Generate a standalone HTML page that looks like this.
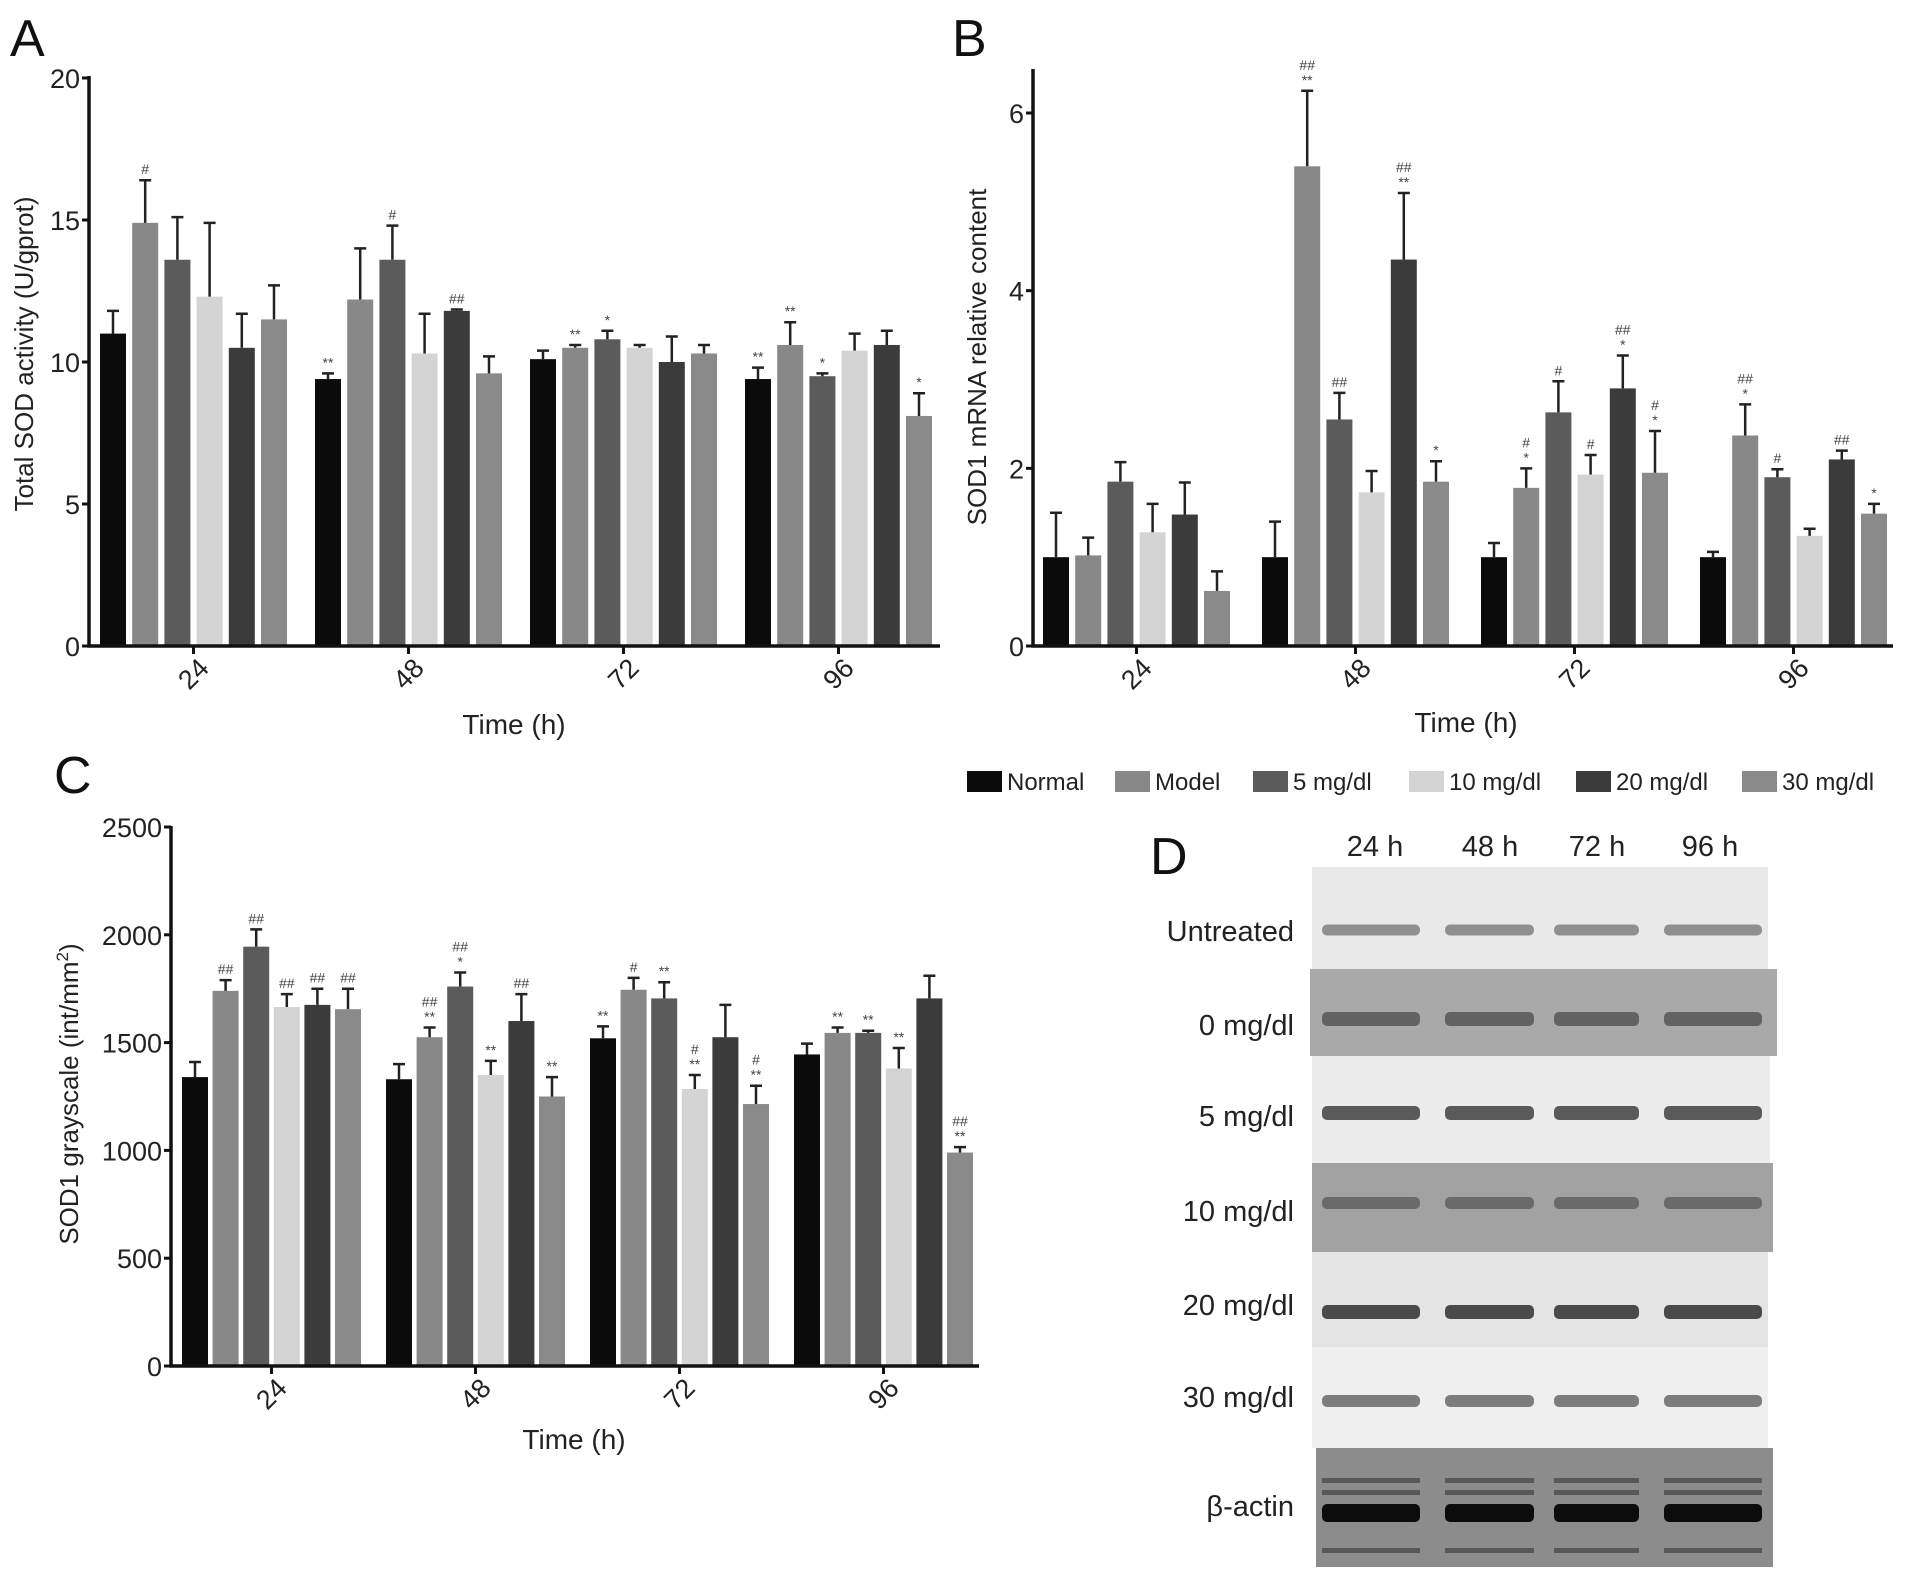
<!DOCTYPE html>
<html><head><meta charset="utf-8">
<style>
html,body{margin:0;padding:0;background:#fff;}
svg{display:block;font-family:"Liberation Sans",Arial,sans-serif;}
</style></head>
<body>
<svg id="fig" width="1913" height="1579" viewBox="0 0 1913 1579" xmlns="http://www.w3.org/2000/svg">
<rect x="0" y="0" width="1913" height="1579" fill="#fff"/>
<text x="10" y="56" font-size="52" fill="#111">A</text>
<text x="952" y="56" font-size="52" fill="#111">B</text>
<text x="54" y="793" font-size="52" fill="#111">C</text>
<text x="1150" y="874" font-size="52" fill="#111">D</text>
<g id="gA"></g>
<g id="gB"></g>
<g id="gC"></g>
<g id="legend"></g>
<g id="blot"></g>
</svg>
<script>
const categories = ["24","48","72","96"];
const seriesNames = ["Normal","Model","5 mg/dl","10 mg/dl","20 mg/dl","30 mg/dl"];
const seriesColors = ["#0b0b0b","#888888","#5b5b5b","#d4d4d4","#3b3b3b","#8a8a8a"];

// Panel A: Total SOD activity
const aTicks = [0,5,10,15,20];
const aNormal = [11.0,9.4,10.1,9.4];
const aModel = [14.9,12.2,10.5,10.6];
const a5 = [13.6,13.6,10.8,9.5];
const a10 = [12.3,10.3,10.5,10.4];
const a20 = [10.5,11.8,10.0,10.6];
const a30 = [11.5,9.6,10.3,8.1];
const aErrNormal = [0.8,0.2,0.3,0.4];
const aErrModel = [1.5,1.8,0.1,0.8];
const aErr5 = [1.5,1.2,0.3,0.1];
const aErr10 = [2.6,1.4,0.1,0.6];
const aErr20 = [1.2,0.05,0.9,0.5];
const aErr30 = [1.2,0.6,0.3,0.8];
const aMarks = [["","#","","","",""],["**","","#","","##",""],["","**","*","","",""],["**","**","*","","","*"]];

// Panel B: SOD1 mRNA
const bTicks = [0,2,4,6];
const bNormal = [1.0,1.0,1.0,1.0];
const bModel = [1.02,5.4,1.78,2.37];
const b5 = [1.85,2.55,2.63,1.9];
const b10 = [1.28,1.73,1.93,1.24];
const b20 = [1.48,4.35,2.9,2.1];
const b30 = [0.62,1.85,1.95,1.49];
const bErrNormal = [0.5,0.4,0.16,0.06];
const bErrModel = [0.2,0.85,0.22,0.35];
const bErr5 = [0.22,0.3,0.35,0.09];
const bErr10 = [0.32,0.24,0.22,0.08];
const bErr20 = [0.36,0.75,0.37,0.1];
const bErr30 = [0.22,0.23,0.47,0.11];
const bMarks = [["","","","","",""],["","##|**","##","","##|**","*"],["","#|*","#","#","##|*","#|*"],["","##|*","#","","##","*"]];

// Panel C: SOD1 grayscale
const cTicks = [0,500,1000,1500,2000,2500];
const cNormal = [1340,1330,1520,1445];
const cModel = [1740,1525,1745,1545];
const c5 = [1945,1760,1705,1545];
const c10 = [1665,1350,1285,1380];
const c20 = [1675,1600,1525,1705];
const c30 = [1655,1250,1215,990];
const cErrNormal = [70,70,55,50];
const cErrModel = [50,45,55,25];
const cErr5 = [80,65,75,10];
const cErr10 = [60,65,65,95];
const cErr20 = [75,125,150,105];
const cErr30 = [95,90,85,25];
const cMarks = [["","##","##","##","##","##"],["","##|**","##|*","**","##","**"],["**","#","**","#|**","","#|**"],["","**","**","**","","##|**"]];

const NS = "http://www.w3.org/2000/svg";
function mk(parent, tag, attrs){
  const e = document.createElementNS(NS, tag);
  for (const k in attrs) e.setAttribute(k, attrs[k]);
  parent.appendChild(e);
  return e;
}

function drawChart(gid, cfg){
  const g = document.getElementById(gid);
  const vals = cfg.vals, errs = cfg.errs, marks = cfg.marks;
  const yScale = v => cfg.y0 - (v - cfg.min) / (cfg.max - cfg.min) * (cfg.y0 - cfg.yTop);
  const xBar = (gi, si) => cfg.firstLeft + gi * cfg.groupPitch + si * cfg.barPitch;
  for (let gi = 0; gi < categories.length; gi++){
    for (let si = 0; si < vals.length; si++){
      const v = vals[si][gi], e = errs[si][gi];
      const x = xBar(gi, si), yt = yScale(v);
      const r = mk(g, "rect", {x: x, y: yt, width: cfg.barW, height: cfg.y0 - yt, fill: seriesColors[si]});
      
      
      const cx = x + cfg.barW / 2, ye = yScale(v + e);
      const eb = mk(g, "path", {d: `M${cx},${yt} V${ye} M${cx-6},${ye} H${cx+6}`, stroke: "#222", "stroke-width": 2.5, fill: "none"});
      
      
      const m = marks[gi][si];
      if (m){
        const parts = m.split("|");
        let yy = ye - 6;
        for (let k = parts.length - 1; k >= 0; k--){
          const t = mk(g, "text", {x: cx, y: yy, "text-anchor": "middle", "font-size": 14, fill: "#444"});
          t.textContent = parts[k];
          
          
          yy -= 15;
        }
      }
    }
  }
  const ax = mk(g, "path", {d: `M${cfg.axX},${cfg.axTop} V${cfg.y0} H${cfg.axEnd}`, stroke: "#111", "stroke-width": 3.5, fill: "none"});
  
  
  cfg.ticks.forEach(t => {
    const y = yScale(t);
    mk(g, "line", {x1: cfg.axX - 7, x2: cfg.axX, y1: y, y2: y, stroke: "#111", "stroke-width": 3});
    const tl = mk(g, "text", {x: cfg.axX - 9, y: y + 10, "text-anchor": "end", "font-size": 27, fill: "#222"});
    tl.textContent = t;
    
    
  });
  for (let gi = 0; gi < categories.length; gi++){
    const cx = xBar(gi, 0) + (5 * cfg.barPitch + cfg.barW) / 2;
    mk(g, "line", {x1: cx, x2: cx, y1: cfg.y0, y2: cfg.y0 + 8, stroke: "#111", "stroke-width": 3});
    const tl = mk(g, "text", {x: cx, y: cfg.y0 + 37, "text-anchor": "middle", "font-size": 27, fill: "#222", transform: `rotate(-45 ${cx} ${cfg.y0 + 28})`});
    tl.textContent = categories[gi];
    
    
  }
  const xt = mk(g, "text", {x: cfg.xtX, y: cfg.xtY, "text-anchor": "middle", "font-size": 28, fill: "#222"});
  xt.textContent = "Time (h)";
  
  
  const yt = mk(g, "text", {x: cfg.ytX, y: cfg.ytY, "text-anchor": "middle", "font-size": 26, fill: "#222", transform: `rotate(-90 ${cfg.ytX} ${cfg.ytY})`});
  yt.innerHTML = cfg.ytitle;
  
  
}

drawChart("gA", {vals:[aNormal,aModel,a5,a10,a20,a30], errs:[aErrNormal,aErrModel,aErr5,aErr10,aErr20,aErr30], marks:aMarks,
  ticks:aTicks, min:0, max:20, y0:646, yTop:78, axX:89, axTop:76, axEnd:940,
  firstLeft:100, groupPitch:215, barPitch:32.2, barW:26, xtX:514, xtY:734, ytX:33, ytY:354,
  ytitle:"Total SOD activity (U/gprot)"});
drawChart("gB", {vals:[bNormal,bModel,b5,b10,b20,b30], errs:[bErrNormal,bErrModel,bErr5,bErr10,bErr20,bErr30], marks:bMarks,
  ticks:bTicks, min:0, max:6, y0:646, yTop:113, axX:1033, axTop:69, axEnd:1893,
  firstLeft:1043, groupPitch:219, barPitch:32.2, barW:26, xtX:1466, xtY:732, ytX:986, ytY:357,
  ytitle:"SOD1 mRNA relative content"});
drawChart("gC", {vals:[cNormal,cModel,c5,c10,c20,c30], errs:[cErrNormal,cErrModel,cErr5,cErr10,cErr20,cErr30], marks:cMarks,
  ticks:cTicks, min:0, max:2500, y0:1366, yTop:827, axX:171, axTop:826, axEnd:979,
  firstLeft:182, groupPitch:204, barPitch:30.6, barW:26, xtX:574, xtY:1449, ytX:78, ytY:1094,
  ytitle:"SOD1 grayscale (int/mm<tspan font-size='17' dy='-10'>2</tspan><tspan dy='10'>)</tspan>"});

const legendX = [967,1115,1253,1409,1576,1742];
const lg = document.getElementById("legend");
seriesNames.forEach((n, i) => {
  const sw = mk(lg, "rect", {x: legendX[i], y: 771, width: 35, height: 21, fill: seriesColors[i]});
  
  
  const t = mk(lg, "text", {x: legendX[i] + 40, y: 790, "font-size": 24, fill: "#222"});
  t.textContent = n;
  
  
});

const bl = document.getElementById("blot");
const colLabels = ["24 h","48 h","72 h","96 h"];
const colX = [1375,1490,1597,1710];
colLabels.forEach((c,i) => {
  const t = mk(bl, "text", {x: colX[i], y: 856, "text-anchor": "middle", "font-size": 29, fill: "#222"});
  t.textContent = c;
  
  
});
const rows = [
  {n:"Untreated", y1:867, y2:969, x1:1312, x2:1768, bg:"#e9e9e9", band:930, bc:"#8f8f8f", bh:11, ly:930},
  {n:"0 mg/dl", y1:969, y2:1056, x1:1310, x2:1777, bg:"#a9a9a9", band:1019, bc:"#626262", bh:14, ly:1024},
  {n:"5 mg/dl", y1:1056, y2:1163, x1:1312, x2:1770, bg:"#ececec", band:1113, bc:"#5a5a5a", bh:14, ly:1115},
  {n:"10 mg/dl", y1:1163, y2:1252, x1:1312, x2:1773, bg:"#a2a2a2", band:1203, bc:"#6a6a6a", bh:12, ly:1210},
  {n:"20 mg/dl", y1:1252, y2:1347, x1:1312, x2:1768, bg:"#e4e4e4", band:1312, bc:"#4a4a4a", bh:14, ly:1304},
  {n:"30 mg/dl", y1:1347, y2:1448, x1:1312, x2:1768, bg:"#efefef", band:1401, bc:"#7d7d7d", bh:12, ly:1396},
  {n:"β-actin", y1:1448, y2:1567, x1:1316, x2:1773, bg:"#8c8c8c", band:1513, bc:"#0c0c0c", bh:18, ly:1505}
];
const laneX = [[1322,1420],[1445,1534],[1554,1639],[1664,1762]];
rows.forEach(r => {
  const bgR = mk(bl, "rect", {x: r.x1, y: r.y1, width: r.x2 - r.x1, height: r.y2 - r.y1, fill: r.bg});
  
  
  laneX.forEach(l => {
    const b = mk(bl, "rect", {x: l[0], y: r.band - r.bh/2, width: l[1]-l[0], height: r.bh, rx: 5, fill: r.bc});
    
    
  });
  if (r.n === "β-actin"){
    [1478,1490,1548].forEach(yy => laneX.forEach(l => mk(bl, "rect", {x: l[0], y: yy, width: l[1]-l[0], height: 5, fill: "#585858"})));
  }
  const t = mk(bl, "text", {x: 1294, y: r.ly + 11, "text-anchor": "end", "font-size": 29, fill: "#222"});
  t.textContent = r.n;
  
  
});
</script>
</body></html>
